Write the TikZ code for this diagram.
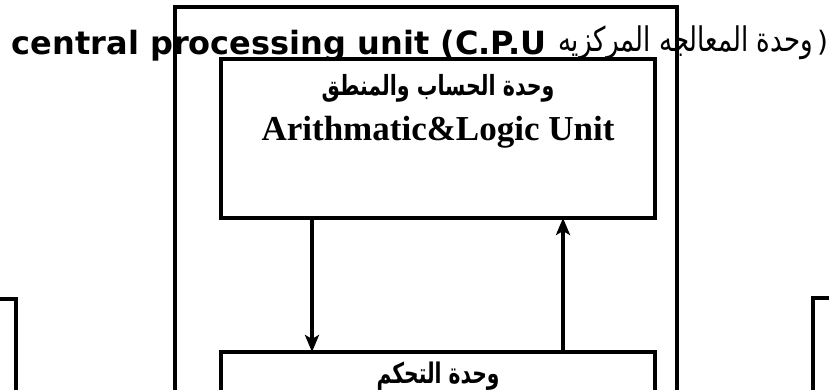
\documentclass[tikz,border=0pt]{standalone}
\usepackage{fontspec}
\usetikzlibrary{arrows.meta}
\TeXXeTstate=1
\newfontfamily\arabicfont[Script=Arabic]{DejaVu Sans}
\newfontfamily\hdfont{DejaVu Sans}
\newfontfamily\serifb{Liberation Serif}
\tikzset{
  boxline/.style={draw=black, line width=3.5pt, outer sep=0pt, inner sep=0pt, anchor=north west},
  outerline/.style={draw=black, line width=4.5pt, outer sep=0pt, inner sep=0pt, anchor=north west},
  arr/.style={line width=3.5pt, -{Stealth[length=17pt,width=14pt,inset=4pt]}},
  txt/.style={inner sep=0pt, outer sep=0pt}
}
\begin{document}
\begin{tikzpicture}[x=1pt,y=-1pt]
\clip (0,0) rectangle (829,390);
\fill[white] (0,0) rectangle (829,390);
% boxes
\node[outerline, minimum width=502pt, minimum height=450pt] (outer) at (175,7) {};
\node[boxline, minimum width=434pt, minimum height=159pt] (alu) at (221,59) {};
\node[boxline, minimum width=434pt, minimum height=120pt] (ctl) at (221,352) {};
\node[boxline, minimum width=60pt, minimum height=120pt] (lbox) at (-44,299) {};
\node[boxline, minimum width=60pt, minimum height=120pt] (rbox) at (813,298) {};
% heading
\node[txt, anchor=base west] (hd) at (12,55) {\hdfont\bfseries\fontsize{32}{38}\selectfont central processing unit (C.P.U};
\node[txt, anchor=base east] (hdar) at (813,52) {\resizebox{255pt}{!}{\scalebox{1}[1.3]{\arabicfont\fontsize{26}{30}\selectfont\beginR وحدة المعالجه المركزيه\endR}}};
\node[txt, anchor=base west] (par) at (817,52) {\hdfont\fontsize{28}{30}\selectfont )};
% ALU texts
\node[txt, anchor=base] (aluar) at (438,96) {\resizebox{233pt}{!}{\scalebox{1}[1.35]{\arabicfont\bfseries\fontsize{26}{30}\selectfont\beginR وحدة الحساب والمنطق\endR}}};
\node[txt, anchor=base] (aluen) at (438,141) {\serifb\bfseries\fontsize{35}{40}\selectfont Arithmatic\&Logic Unit};
% control text
\node[txt, anchor=base] (ctlar) at (438,383) {\resizebox{123pt}{!}{\scalebox{1}[1.4]{\arabicfont\bfseries\fontsize{26}{30}\selectfont\beginR وحدة التحكم\endR}}};
% arrows
\coordinate (dn) at (312,0);
\coordinate (up) at (563,0);
\draw[arr] (alu.south -| dn) -- (ctl.north -| dn);
\draw[arr] (ctl.north -| up) -- (alu.south -| up);
\end{tikzpicture}
\end{document}
